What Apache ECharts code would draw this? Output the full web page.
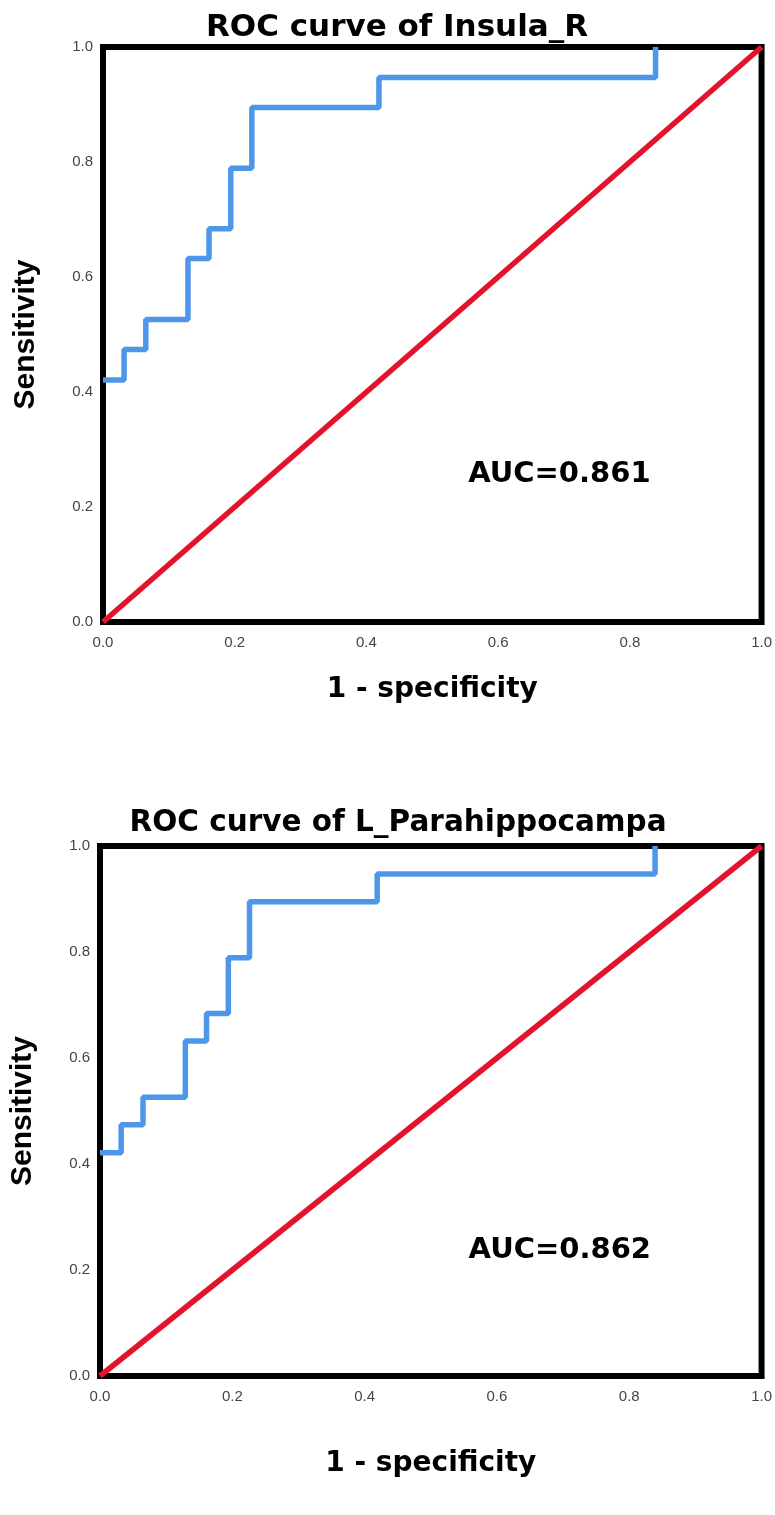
<!DOCTYPE html>
<html>
<head>
<meta charset="utf-8">
<title>ROC curves</title>
<script src="https://cdn.jsdelivr.net/npm/echarts@6/dist/echarts.min.js"></script>
<style>
  html, body { margin: 0; padding: 0; background: #fff; }
  #chart { width: 775px; height: 1515px; }
</style>
</head>
<body>
<div id="chart"></div>
<script>
// tick labels shared by both axes
var ticks = ['0.0', '0.2', '0.4', '0.6', '0.8', '1.0'];

// ROC of Insula_R (1 - specificity, sensitivity)
var insulaFpr = [0, 0.032, 0.065, 0.129, 0.161, 0.194, 0.226, 0.419, 0.839];
var insulaTpr = [0.421, 0.474, 0.526, 0.632, 0.684, 0.789, 0.895, 0.947, 1.0];
var insulaAuc = '0.861';

// ROC of L_Parahippocampa
var paraFpr = [0, 0.032, 0.065, 0.129, 0.161, 0.194, 0.226, 0.419, 0.839];
var paraTpr = [0.421, 0.474, 0.526, 0.632, 0.684, 0.789, 0.895, 0.947, 1.0];
var paraAuc = '0.862';

// reference diagonal
var refX = [0, 1];
var refY = [0, 1];

function pairs (xs, ys) {
  var out = [];
  for (var i = 0; i < xs.length; i++) out.push([xs[i], ys[i]]);
  return out;
}

var boldFont = 'DejaVu Sans';
var tickFmt = function (v) { return ticks[Math.round(v * 5)]; };

function makeX (idx, gap) {
  return {
    type: 'value', gridIndex: idx, min: 0, max: 1, interval: 0.2,
    name: '1 - specificity', nameLocation: 'middle', nameGap: gap,
    nameTextStyle: {fontFamily: boldFont, fontWeight: 'bold', fontSize: 28, color: '#000'},
    axisLine: {show: false}, axisTick: {show: false}, splitLine: {show: false},
    axisLabel: {formatter: tickFmt, margin: 13, fontSize: 15, color: '#444', fontFamily: 'Liberation Sans', showMaxLabel: true}
  };
}

function makeY (idx) {
  return {
    type: 'value', gridIndex: idx, min: 0, max: 1, interval: 0.2,
    name: 'Sensitivity', nameLocation: 'middle', nameGap: 62,
    nameTextStyle: {fontFamily: 'Liberation Sans', fontWeight: 'bold', fontSize: 30, color: '#000'},
    axisLine: {show: false}, axisTick: {show: false}, splitLine: {show: false},
    axisLabel: {formatter: tickFmt, margin: 10, fontSize: 15, color: '#444', fontFamily: 'Liberation Sans'}
  };
}

function rocSeries (idx, xs, ys) {
  return {
    type: 'line', xAxisIndex: idx, yAxisIndex: idx, step: 'end',
    data: pairs(xs, ys), showSymbol: false, z: 3,
    lineStyle: {color: '#4d96ea', width: 5.5}
  };
}

function refSeries (idx) {
  return {
    type: 'line', xAxisIndex: idx, yAxisIndex: idx,
    data: pairs(refX, refY), showSymbol: false, z: 4,
    lineStyle: {color: '#e3132c', width: 5.5}
  };
}

function aucSeries (idx, auc, x, y) {
  return {
    type: 'scatter', xAxisIndex: idx, yAxisIndex: idx, symbolSize: 0,
    data: [[x, y]], silent: true,
    itemStyle: {opacity: 1},
    label: {
      show: true, position: [0, 0], align: 'center', verticalAlign: 'middle',
      formatter: 'AUC=' + auc, textBorderWidth: 0,
      fontFamily: boldFont, fontWeight: 'bold', fontSize: 29, color: '#000'
    }
  };
}

var chart = echarts.init(document.getElementById('chart'));
chart.setOption({
  backgroundColor: '#fff',
  animation: false,
  title: [
    {text: 'ROC curve of Insula_R', left: 392, top: 7, textAlign: 'center',
      textStyle: {fontFamily: boldFont, fontWeight: 'bold', fontSize: 31, color: '#000'}},
    {text: 'ROC curve of L_Parahippocampa', left: 393, top: 803, textAlign: 'center',
      textStyle: {fontFamily: boldFont, fontWeight: 'bold', fontSize: 29.5, color: '#000'}}
  ],
  grid: [
    {left: 103, top: 47, width: 659, height: 575, show: true, borderColor: '#000', borderWidth: 6},
    {left: 98, top: 846, width: 667, height: 530, show: true, borderColor: '#000', borderWidth: 6}
  ],
  xAxis: [makeX(0, 54), makeX(1, 74)],
  yAxis: [makeY(0), makeY(1)],
  series: [
    rocSeries(0, insulaFpr, insulaTpr),
    refSeries(0),
    aucSeries(0, insulaAuc, 0.693, 0.257),
    rocSeries(1, paraFpr, paraTpr),
    refSeries(1),
    aucSeries(1, paraAuc, 0.695, 0.236)
  ]
});
</script>
</body>
</html>
